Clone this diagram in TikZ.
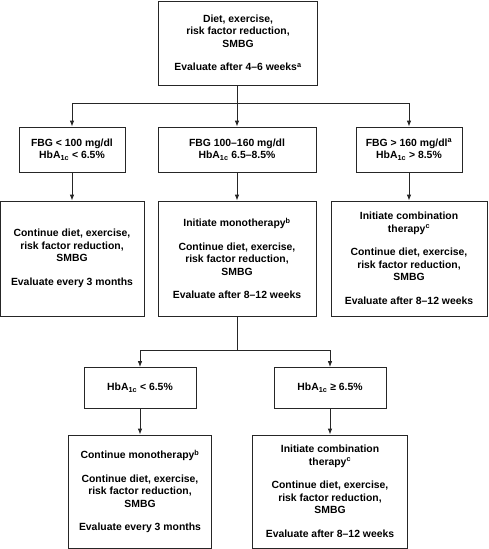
\documentclass[tikz,border=0pt]{standalone}
\usepackage{fontspec}
\setmainfont{Liberation Sans}
\usetikzlibrary{arrows.meta, positioning}

\tikzset{
  box/.style={draw=black!85, line width=0.8pt, align=center, inner sep=0pt,
    font=\fontsize{10.4}{12.5}\selectfont\bfseries},
  arr/.style={draw=black!85, line width=0.8pt, -{Latex[length=6pt, width=4.5pt]}},
  link/.style={draw=black!85, line width=0.8pt}
}
\newcommand{\hba}{HbA\textsubscript{1c}}
\newcommand{\gap}{\\[11pt]}

\begin{document}
\begin{tikzpicture}[x=1pt, y=-1pt]
        \useasboundingbox (0, 0) rectangle (488, 549);

        % Start
        \node[box, minimum width=159pt, minimum height=84pt] (start) at (238, 43)
          {Diet, exercise,\\ risk factor reduction,\\ SMBG\gap Evaluate after 4--6 weeks\textsuperscript{a}};

        % Glucose levels
        \node[box, minimum width=106pt, minimum height=45pt] (low) at (72, 149.5)
          {FBG < 100 mg/dl\\ \hba{} < 6.5\%};
        \node[box, minimum width=158pt, minimum height=45pt] (mid) at (237, 149.5)
          {FBG 100--160 mg/dl\\ \hba{} 6.5--8.5\%};
        \node[box, minimum width=106pt, minimum height=45pt] (high) at (409, 149.5)
          {FBG > 160 mg/dl\textsuperscript{a}\\ \hba{} > 8.5\%};

        % Actions
        \node[box, minimum width=144pt, minimum height=115pt] (lowact) at (72, 258.5)
          {Continue diet, exercise,\\ risk factor reduction,\\ SMBG\gap Evaluate every 3 months};
        \node[box, minimum width=158pt, minimum height=115pt] (midact) at (237, 258.5)
          {Initiate monotherapy\textsuperscript{b}\gap Continue diet, exercise,\\ risk factor reduction,\\ SMBG\gap Evaluate after 8--12 weeks};
        \node[box, minimum width=156pt, minimum height=115pt] (highact) at (409, 258.5)
          {Initiate combination\\ therapy\textsuperscript{c}\gap Continue diet, exercise,\\ risk factor reduction,\\ SMBG\gap Evaluate after 8--12 weeks};

        % Follow-up
        \node[box, minimum width=112pt, minimum height=41pt] (ok) at (140, 388)
          {\hba{} < 6.5\%};
        \node[box, minimum width=112pt, minimum height=41pt] (notok) at (330, 388)
          {\hba{} ≥ 6.5\%};
        \node[box, minimum width=143pt, minimum height=113pt] (okact) at (140, 491.5)
          {Continue monotherapy\textsuperscript{b}\gap Continue diet, exercise,\\ risk factor reduction,\\ SMBG\gap Evaluate every 3 months};
        \node[box, minimum width=155pt, minimum height=113pt] (notokact) at (330, 491.5)
          {Initiate combination\\ therapy\textsuperscript{c}\gap Continue diet, exercise,\\ risk factor reduction,\\ SMBG\gap Evaluate after 8--12 weeks};

        % Connectors
        \coordinate (split) at (237, 103);
        \coordinate (join) at (237, 350);
        \draw[link] (start.south -| split) -- (split);
        \draw[arr] (split) -| (low.north);
        \draw[arr] (split) -- (mid.north);
        \draw[arr] (split) -| (high.north);
        \draw[arr] (low) -- (lowact);
        \draw[arr] (mid) -- (midact);
        \draw[arr] (high) -- (highact);
        \draw[link] (midact) -- (join);
        \draw[arr] (join) -| (ok.north);
        \draw[arr] (join) -| (notok.north);
        \draw[arr] (ok) -- (okact);
        \draw[arr] (notok) -- (notokact);
    \end{tikzpicture}
\end{document}
